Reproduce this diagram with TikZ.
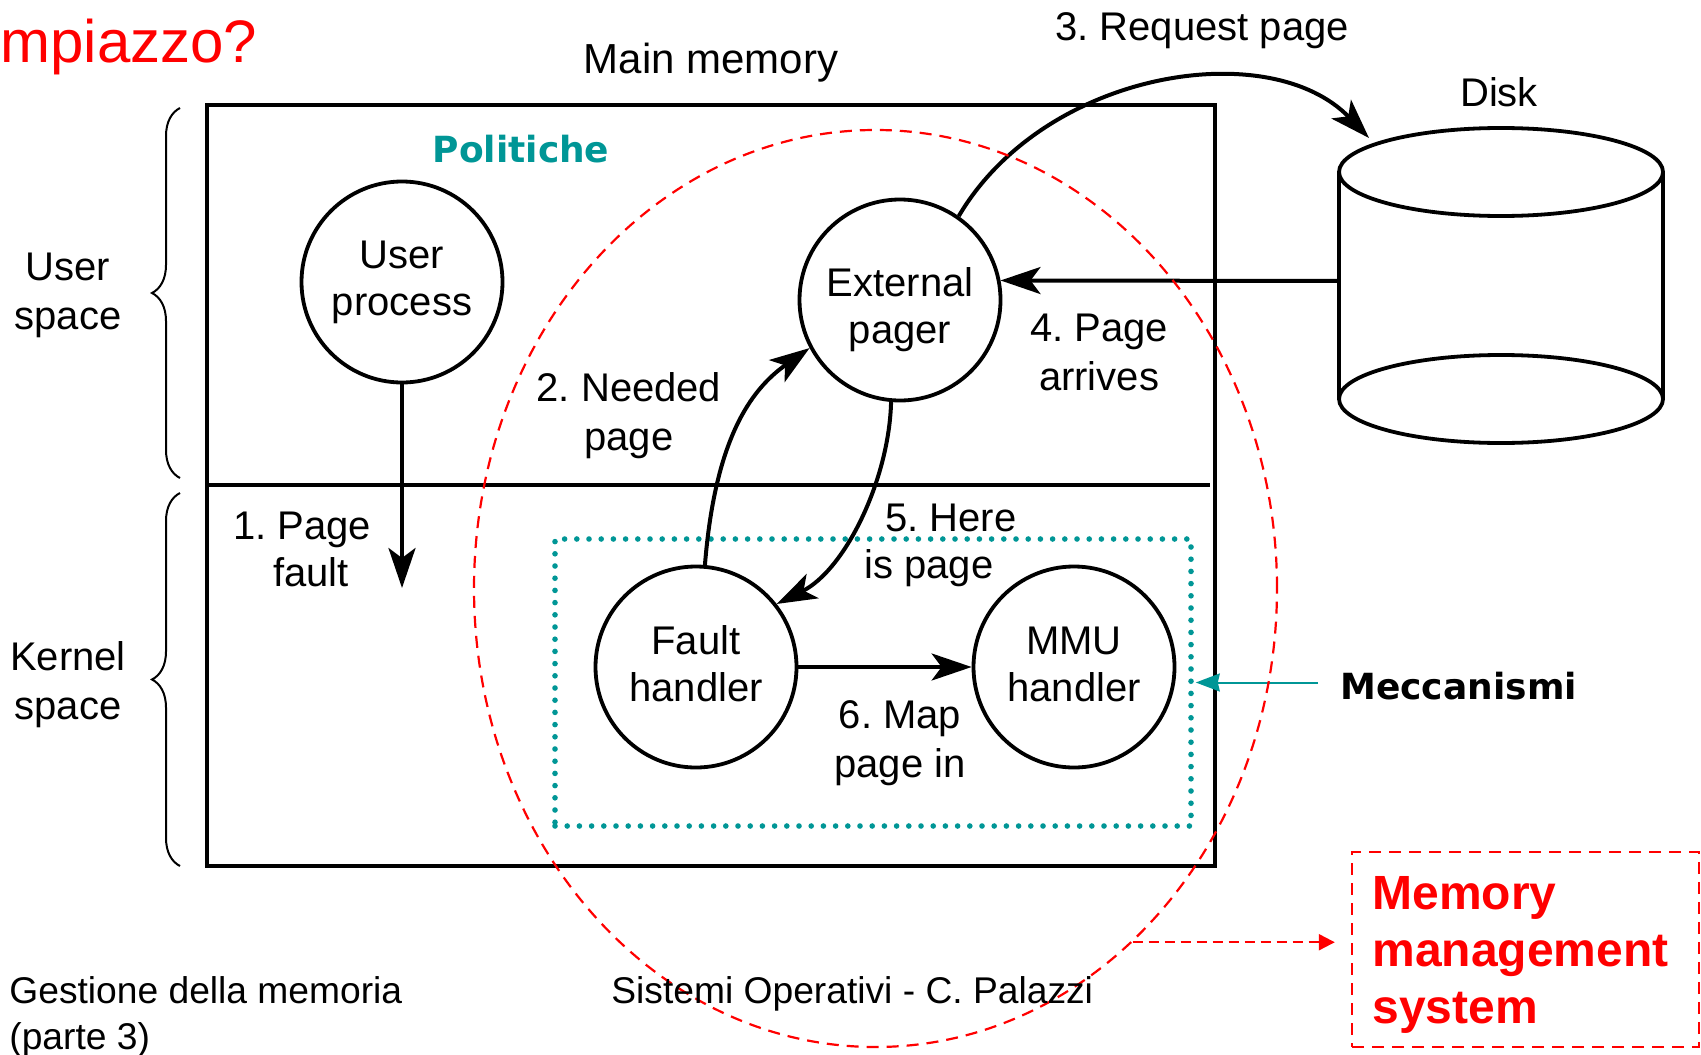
\documentclass[tikz,border=0pt]{standalone}
\usepackage{fontspec}
\setmainfont{Liberation Sans}
\newfontfamily\dv{DejaVu Sans}
\usetikzlibrary{arrows.meta,decorations.pathreplacing,shapes.geometric}
\definecolor{tealc}{RGB}{0,150,150}
\definecolor{redc}{RGB}{255,0,0}
\frenchspacing
\begin{document}
\frenchspacing
\begin{tikzpicture}[x=0.5pt,y=-0.5pt,
  every node/.style={inner sep=0pt},
  lbl/.style={font=\fontsize{20}{24.5}\selectfont, align=center},
  proc/.style={circle, draw, line width=1.9pt, minimum size=100.5pt},
  proctxt/.style={font=\fontsize{20}{23.5}\selectfont, align=center},
  arr/.style={line width=2pt, -{Stealth[length=20pt,width=13.5pt,inset=5pt]}},
  bracestyle/.style={line width=1pt, decorate, decoration={brace, amplitude=14pt}},
  boldteal/.style={font={\dv\bfseries\fontsize{18}{22}\selectfont}},
  tealarr/.style={draw=tealc, line width=1pt, -{Stealth[length=12pt,width=9pt,inset=1pt]}, color=tealc},
  reddash/.style={draw=redc, line width=1.1pt, dash pattern=on 6pt off 4pt},
  footer/.style={font=\fontsize{18.6}{23}\selectfont}
]
\useasboundingbox (0,0) rectangle (1701,1054);

% title fragment
\node[font=\fontsize{30}{36}\selectfont, text=redc, anchor=base west] (title) at (0,63) {mpiazzo?};

% main memory box
\node[draw, line width=2.1pt, minimum width=504pt, minimum height=380.5pt] (mem) at (711,485.5) {};
\coordinate (divL) at (207,485);
\coordinate (divR) at (1210,485);
\draw[line width=2pt] (divL) -- (divR);

\node[lbl, font=\fontsize{21}{24}\selectfont] (mmlbl) at (711,63) {Main memory};
\node[boldteal, text=tealc] (pol) at (521,149) {Politiche};

% braces and side labels
\coordinate (ub1) at (180,478); \coordinate (ub2) at (180,108);
\coordinate (kb1) at (180,866); \coordinate (kb2) at (180,493);
\draw[bracestyle] (ub1) -- (ub2);
\draw[bracestyle] (kb1) -- (kb2);
\node[lbl] (us) at (68,295) {User\\space};
\node[lbl] (ks) at (68,685) {Kernel\\space};

% mechanism box
\node[draw=tealc, line width=2.8pt, dash pattern=on 0pt off 6.1pt, line cap=round, minimum width=318pt, minimum height=143.5pt] (mech) at (873,682.5) {};

% processes
\node[proc] (up) at (402,282) {};
\node[proc] (ep) at (900,300) {};
\node[proc] (fh) at (696,667) {};
\node[proc] (mmu) at (1074,667) {};
\node[proctxt] (upt) at (402,282) {User\\process};
\node[proctxt] (ept) at (900,310) {External\\pager};
\node[proctxt] (fht) at (696,664) {Fault\\handler};
\node[proctxt] (mmut) at (1074,664) {MMU\\handler};

% disk
\draw[line width=1.9pt] (1501,172) ellipse [x radius=162, y radius=44];
\draw[line width=1.9pt] (1501,399) ellipse [x radius=162, y radius=44];
\draw[line width=1.9pt] (1339,172) -- (1339,399);
\draw[line width=1.9pt] (1663,172) -- (1663,399);
\coordinate (diskL) at (1339,281);
\coordinate (diskT) at (1369,138);
\node[lbl] (disklbl) at (1499,92) {Disk};

% labels
\node[lbl] (reqlbl) at (1202,31) {3. Request page};
\node[lbl] (l1a) at (302,530) {1. Page};
\node[lbl] (l1b) at (311,572) {fault};
\node[lbl] (l2) at (629,416) {2. Needed\\page};
\node[lbl] (l4) at (1099,352) {4. Page\\arrives};
\node[lbl] (l5a) at (951,518) {5. Here};
\node[lbl] (l5b) at (929,568) {is page};
\node[lbl] (l6) at (900,743) {6. Map\\page in};

% connectors
\coordinate (pf) at (402,588);
\draw[arr] (up.south) -- (pf);
\draw[arr] (fh.85) .. controls (715,440) and (750,390) .. (ep.208);
\draw[arr] (ep.265) .. controls (889,480) and (845,570) .. (fh.38);
\draw[arr] (ep.55) .. controls (1045,70) and (1270,35) .. (diskT);
\draw[arr] (diskL) -- (ep.11);
\draw[arr] (fh.east) -- (mmu.west);

% Meccanismi
\node[boldteal, anchor=west] (mec) at (1340,686) {Meccanismi};
\draw[tealarr, shorten <=11pt, shorten >=1pt] (mec.west |- mech.east) -- (mech.east);

% memory management system
\node[reddash, ellipse, minimum width=401.5pt, minimum height=458.5pt] (mms) at (875.5,588.5) {};
\node[reddash, line width=1.2pt, minimum width=173.5pt, minimum height=97.5pt] (mbox) at (1525.5,949.5) {};
\node[font=\bfseries\fontsize{24}{28.5}\selectfont, text=redc, align=left, anchor=west] (mtxt) at (1372,955) {Memory\\management\\system};
\draw[draw=redc, line width=1.1pt, dash pattern=on 5pt off 3pt, -{Triangle[length=8pt,width=8pt]}, shorten >=8pt] (mms.-54) -- (mms.-54 -| mbox.west);

% footer
\node[footer, align=left, anchor=west] (foot1) at (9,1017) {Gestione della memoria\\(parte 3)};
\node[footer, anchor=west] (foot2) at (611,994) {Sistemi Operativi - C. Palazzi};
\end{tikzpicture}
\end{document}
